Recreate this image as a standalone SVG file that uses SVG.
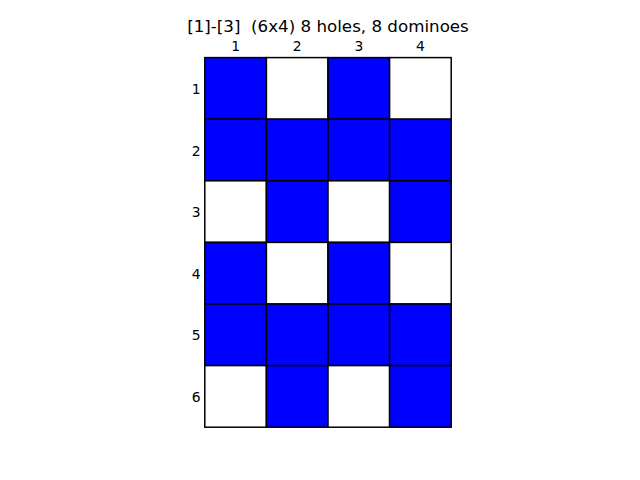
<svg xmlns="http://www.w3.org/2000/svg" width="640" height="480" viewBox="0 0 640 480">
<style>
.t{font-family:"DejaVu Sans",sans-serif;fill:#000}
.b{fill:#0000ff;stroke:#000;stroke-width:1.5}
.w{fill:#fff;stroke:#000;stroke-width:1.5}
</style>
<rect width="640" height="480" fill="#fff"/>
<text class="t" x="328" y="32" font-size="16.7" text-anchor="middle" xml:space="preserve">[1]-[3]  (6x4) 8 holes, 8 dominoes</text>
<g id="collabels" class="t" font-size="13.9" text-anchor="middle">
<text x="235.6" y="50.5">1</text><text x="297.2" y="50.5">2</text><text x="358.8" y="50.5">3</text><text x="420.4" y="50.5">4</text>
</g>
<g id="rowlabels" class="t" font-size="13.9" text-anchor="end">
<text x="200.5" y="94">1</text><text x="200.5" y="155.6">2</text><text x="200.5" y="217.2">3</text><text x="200.5" y="278.8">4</text><text x="200.5" y="340.4">5</text><text x="200.5" y="402">6</text>
</g>
<g id="cells">
<rect id="c11" class="b" x="204.8" y="57.6" width="61.6" height="61.6"/>
<rect id="c12" class="w" x="266.4" y="57.6" width="61.6" height="61.6"/>
<rect id="c13" class="b" x="328" y="57.6" width="61.6" height="61.6"/>
<rect id="c14" class="w" x="389.6" y="57.6" width="61.6" height="61.6"/>
<rect id="c21" class="b" x="204.8" y="119.2" width="61.6" height="61.6"/>
<rect id="c22" class="b" x="266.4" y="119.2" width="61.6" height="61.6"/>
<rect id="c23" class="b" x="328" y="119.2" width="61.6" height="61.6"/>
<rect id="c24" class="b" x="389.6" y="119.2" width="61.6" height="61.6"/>
<rect id="c31" class="w" x="204.8" y="180.8" width="61.6" height="61.6"/>
<rect id="c32" class="b" x="266.4" y="180.8" width="61.6" height="61.6"/>
<rect id="c33" class="w" x="328" y="180.8" width="61.6" height="61.6"/>
<rect id="c34" class="b" x="389.6" y="180.8" width="61.6" height="61.6"/>
<rect id="c41" class="b" x="204.8" y="242.4" width="61.6" height="61.6"/>
<rect id="c42" class="w" x="266.4" y="242.4" width="61.6" height="61.6"/>
<rect id="c43" class="b" x="328" y="242.4" width="61.6" height="61.6"/>
<rect id="c44" class="w" x="389.6" y="242.4" width="61.6" height="61.6"/>
<rect id="c51" class="b" x="204.8" y="304" width="61.6" height="61.6"/>
<rect id="c52" class="b" x="266.4" y="304" width="61.6" height="61.6"/>
<rect id="c53" class="b" x="328" y="304" width="61.6" height="61.6"/>
<rect id="c54" class="b" x="389.6" y="304" width="61.6" height="61.6"/>
<rect id="c61" class="w" x="204.8" y="365.6" width="61.6" height="61.6"/>
<rect id="c62" class="b" x="266.4" y="365.6" width="61.6" height="61.6"/>
<rect id="c63" class="w" x="328" y="365.6" width="61.6" height="61.6"/>
<rect id="c64" class="b" x="389.6" y="365.6" width="61.6" height="61.6"/>
</g>
<g id="connectors"/>
</svg>
